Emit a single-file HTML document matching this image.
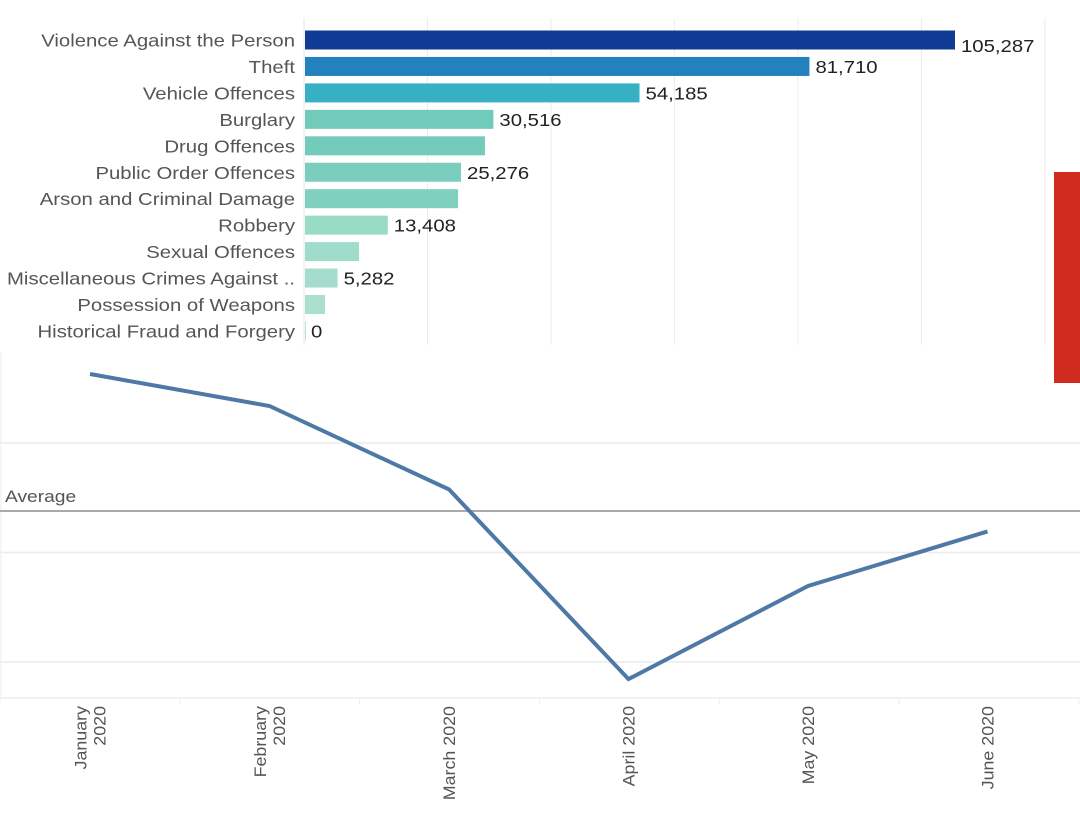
<!DOCTYPE html>
<html><head><meta charset="utf-8"><style>
html,body{margin:0;padding:0;background:#fff;width:1080px;height:818px;overflow:hidden}
svg{display:block;font-family:"Liberation Sans",sans-serif}
</style></head><body>
<svg id="c" width="1080" height="818"></svg>
<script>
const categories=["Violence Against the Person","Theft","Vehicle Offences","Burglary","Drug Offences","Public Order Offences","Arson and Criminal Damage","Robbery","Sexual Offences","Miscellaneous Crimes Against ..","Possession of Weapons","Historical Fraud and Forgery"];
const barValues=[105287,81710,54185,30516,29150,25276,24800,13408,8750,5282,3240,0];
const barLabels=["105,287","81,710","54,185","30,516","","25,276","","13,408","","5,282","","0"];
const barColors=["#0f3b96","#2381bd","#37b0c4","#70cbbb","#75cbbb","#7bcebd","#80d0bf","#98dbc7","#a0dcca","#a4ddcb","#abe0cf","#b5e4d5"];
const barTicks=[0,20000,40000,60000,80000,100000,120000];
const months=["January\n2020","February\n2020","March 2020","April 2020","May 2020","June 2020"];
const lineValues=[63.15,61.69,57.88,49.22,53.47,55.96];
const lineTicks=[50,55,60];
const NS="http://www.w3.org/2000/svg";
const svg=document.getElementById('c');
const SX=1.13;
function mk(t,a,p){const e=document.createElementNS(NS,t);for(const k in a)e.setAttribute(k,a[k]);(p||svg).appendChild(e);return e;}
function txt(x,y,s,anchor,size,fill,name){
 const g=mk('g',{transform:`translate(${x},${y}) scale(${SX},1)`});
 const t=mk('text',{x:0,y:0,'text-anchor':anchor,'font-size':size,fill:fill},g);t.textContent=s;
 
 
 return t;
}
const bx0=304,bScale=650/105287;
const bx=v=>bx0+v*bScale;
const rowY=i=>40+i*26.45;
barTicks.forEach(t=>{if(t===0)return;const g=mk('line',{x1:bx(t),x2:bx(t),y1:18,y2:345,stroke:'#ececec','stroke-width':1});

});
const ax=mk('line',{x1:bx0,x2:bx0,y1:18,y2:345,stroke:'#e6e6e6'});


categories.forEach((c,i)=>{
 const y=rowY(i);
 txt(295,y+6.5,c,'end',18,'#555','category-label');
 const r=mk('rect',{x:bx0+1,y:y-9.5,width:Math.max(barValues[i]*bScale,1),height:19,fill:barColors[i]});
 
 
 if(barLabels[i]) txt(bx(barValues[i])+7,y+(i==0?12:6.5),barLabels[i],'start',18,'#222','bar-value-label');
});
const red=mk('rect',{x:1054,y:172,width:26,height:211,fill:'#d12a1f'});


const ly=v=>662-(v-50)*21.9;
const lx=i=>90+i*179.5;
lineTicks.forEach(t=>{const g=mk('line',{x1:0,x2:1080,y1:ly(t),y2:ly(t),stroke:'#ececec','stroke-width':1.5});

});
const lb=mk('line',{x1:1,x2:1,y1:352,y2:698,stroke:'#eeeeee'});


const xa=mk('line',{x1:0,x2:1080,y1:698,y2:698,stroke:'#eeeeee','stroke-width':1.5});


for(let i=0;i<=6;i++){const tk=mk('line',{x1:i*179.8,x2:i*179.8,y1:698,y2:704,stroke:'#eeeeee'});

}
const avg=lineValues.reduce((a,b)=>a+b,0)/lineValues.length;
const al=mk('line',{x1:0,x2:1080,y1:ly(avg),y2:ly(avg),stroke:'#aaaaaa','stroke-width':2});


txt(5,ly(avg)-9,'Average','start',17,'#555','average-label');
const pl=mk('polyline',{points:lineValues.map((v,i)=>lx(i)+','+ly(v)).join(' '),fill:'none',stroke:'#4e79a7','stroke-width':4,'stroke-linejoin':'miter'});


months.forEach((m,i)=>{
 const lines=m.split('\n');
 const g=mk('text',{transform:`translate(${lx(i)},706) rotate(-90) scale(1.05,1)`,'text-anchor':'end','font-size':17,fill:'#555'});
 lines.forEach((s,j)=>{const ts=mk('tspan',{x:0,y:(j-(lines.length-1)/2)*19+6},g);ts.textContent=s;});
 
 
});
</script>
</body></html>
